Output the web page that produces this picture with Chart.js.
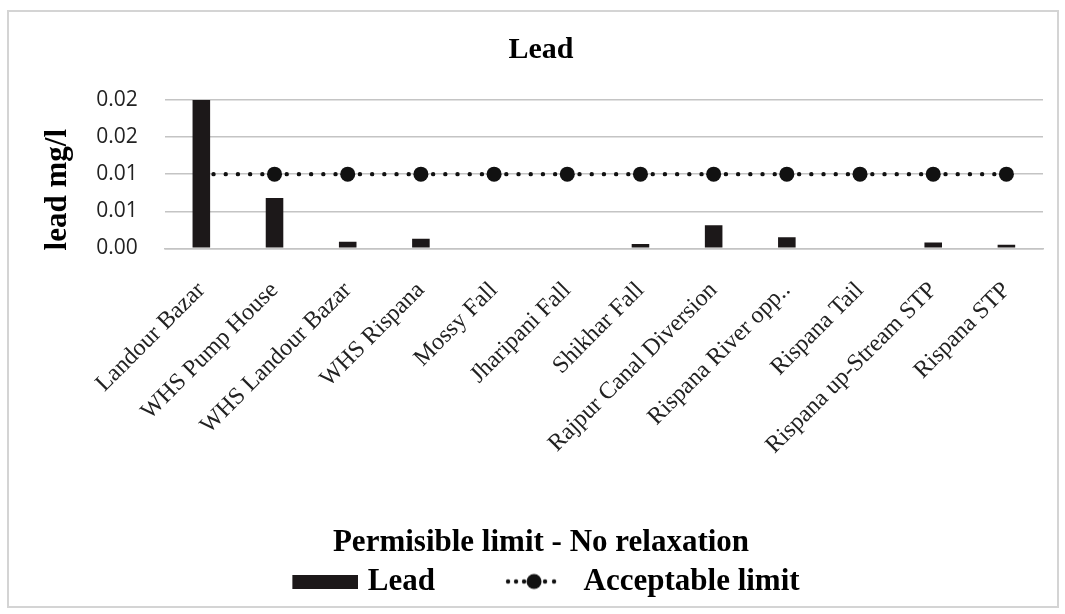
<!DOCTYPE html>
<html>
<head>
<meta charset="utf-8">
<script src="https://cdn.jsdelivr.net/npm/chart.js@4.4.1/dist/chart.umd.min.js"></script>
<style>
  html, body { margin: 0; padding: 0; background: #fff; }
  #wrap { position: relative; width: 1065px; height: 614px; }
  #frame { position: absolute; left: 7px; top: 10px; width: 1048px; height: 594px; border: 2px solid #d4d4d4; }
  #chart { position: absolute; left: 0; top: 0; }
</style>
</head>
<body>
<div id="wrap">
  <div id="frame"></div>
  <canvas id="chart" width="1065" height="614"></canvas>
</div>
<script>
// Sampling sites
const categories = [
  'Landour Bazar', 'WHS Pump House', 'WHS Landour Bazar', 'WHS Rispana',
  'Mossy Fall', 'Jharipani Fall', 'Shikhar Fall', 'Rajpur Canal Diversion',
  'Rispana River opp..', 'Rispana Tail', 'Rispana up-Stream STP', 'Rispana STP'
];

// Lead, mg/l
const leadValues = [0.02, 0.0068, 0.0009, 0.0013, 0, 0, 0.0006, 0.0031, 0.0015, 0, 0.0008, 0.0005];

// Acceptable limit, mg/l
const acceptableLimit = [0.01, 0.01, 0.01, 0.01, 0.01, 0.01, 0.01, 0.01, 0.01, 0.01, 0.01, 0.01];

// Y tick labels as printed (2 decimals)
const yTickLabels = ['0.00', '0.01', '0.01', '0.02', '0.02'];

const barColor = '#1c1819';
const serif = 'Liberation Serif';

// Legend swatches
function makeBarSwatch() {
  // transparent margin on the left so the box sits close to its text
  const c = document.createElement('canvas');
  c.width = 82; c.height = 14;
  const g = c.getContext('2d');
  g.fillStyle = barColor;
  g.fillRect(16, 0, 66, 14);
  return c;
}

function makeLineSwatch() {
  const c = document.createElement('canvas');
  c.width = 58; c.height = 18;
  const g = c.getContext('2d');
  g.fillStyle = '#111';
  [4, 12, 20, 41, 50].forEach(x => {
    g.beginPath(); g.arc(x, 9, 2.2, 0, Math.PI * 2); g.fill();
  });
  g.beginPath(); g.arc(30, 9, 7.5, 0, Math.PI * 2); g.fill();
  return c;
}

const swatches = [makeBarSwatch(), makeLineSwatch()];

const ctx = document.getElementById('chart').getContext('2d');

new Chart(ctx, {
  type: 'bar',
  data: {
    labels: categories,
    datasets: [
      {
        type: 'bar',
        label: 'Lead',
        data: leadValues,
        backgroundColor: barColor,
        borderWidth: 0,
        barPercentage: 0.24,
        categoryPercentage: 1
      },
      {
        type: 'line',
        label: 'Acceptable limit',
        data: acceptableLimit,
        borderColor: '#111',
        backgroundColor: '#111',
        borderWidth: 4.4,
        borderDash: [0, 12.2],
        borderCapStyle: 'round',
        pointRadius: 7.5,
        pointBackgroundColor: '#111',
        pointBorderWidth: 0,
        fill: false
      }
    ]
  },
  options: {
    responsive: false,
    animation: false,
    layout: {
      padding: { left: 39, right: 22, top: 8, bottom: 7 }
    },
    plugins: {
      tooltip: { enabled: false },
      title: {
        display: true,
        text: 'Lead',
        color: '#000',
        font: { family: serif, size: 30, weight: 'bold' },
        padding: { top: 24, bottom: 32 }
      },
      legend: {
        position: 'bottom',
        title: {
          display: true,
          text: 'Permisible limit - No relaxation',
          color: '#000',
          font: { family: serif, size: 31, weight: 'bold' },
          padding: { top: 48, bottom: 0 }
        },
        labels: {
          color: '#000',
          font: { family: serif, size: 31, weight: 'bold' },
          usePointStyle: true,
          pointStyleWidth: 70,
          padding: 1,
          generateLabels: chart => {
            const items = Chart.defaults.plugins.legend.labels.generateLabels(chart);
            items.forEach(item => {
              item.pointStyle = swatches[item.datasetIndex];
              // keep the wide gap between the two entries
              if (item.datasetIndex === 0) item.text = item.text + '        ';
            });
            return items;
          }
        }
      }
    },
    scales: {
      x: {
        grid: { display: false },
        border: { color: '#c4c4c4', width: 1.5 },
        ticks: {
          color: '#222',
          padding: 20,
          font: { family: serif, size: 24 },
          minRotation: 45,
          maxRotation: 45,
          autoSkip: false
        }
      },
      y: {
        min: 0,
        max: 0.02,
        border: { display: false },
        grid: { color: '#c4c4c4', lineWidth: 1.5, drawTicks: false },
        ticks: {
          stepSize: 0.005,
          padding: 27,
          color: '#222',
          font: { family: 'Open Sans', size: 21 },
          callback: (value, index) => yTickLabels[index]
        },
        title: {
          display: true,
          // trailing spaces push the visible text a little lower, as in the original
          text: 'lead mg/l    ',
          color: '#000',
          font: { family: serif, size: 31, weight: 'bold' },
          padding: { top: 0, bottom: -7 }
        }
      }
    }
  }
});
</script>
</body>
</html>
